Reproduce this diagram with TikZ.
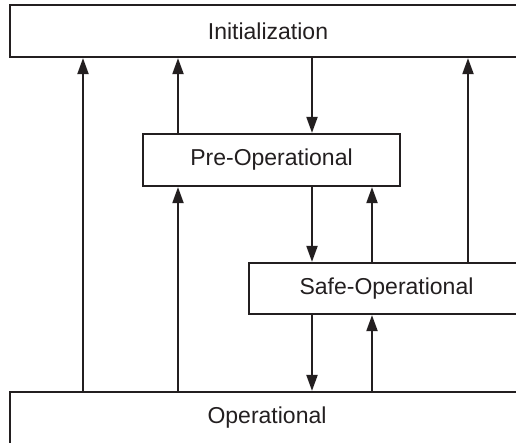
\documentclass[tikz,border=0pt]{standalone}
\usepackage{fontspec}
\setmainfont{Liberation Sans}
\usetikzlibrary{arrows.meta}
\definecolor{ink}{HTML}{231F20}
\tikzset{
  box/.style={draw=ink, line width=2.2pt, fill=white, inner sep=0pt, text=ink,
    font=\fontsize{23pt}{27pt}\selectfont},
  arr/.style={draw=ink, line width=2pt, -{Triangle[length=16pt,width=11pt]}}
}
\begin{document}
\begin{tikzpicture}[x=1pt,y=-1pt]
\useasboundingbox (0,0) rectangle (516,442);
\clip (0,0) rectangle (516,442);
\fill[white] (0,0) rectangle (516,442);
\node[box, minimum width=516pt, minimum height=52pt] (init) at (268,31) {Initialization};
\node[box, minimum width=257pt, minimum height=52pt] (pre) at (271.5,160) {Pre-Operational};
\node[box, minimum width=275pt, minimum height=51pt] (safe) at (386.5,288.5) {Safe-Operational};
\node[box, minimum width=514pt, minimum height=52pt] (op) at (267,418) {Operational};
\coordinate (xa) at (83,0);
\coordinate (xb) at (178,0);
\coordinate (xc) at (312,0);
\coordinate (xd) at (372,0);
\coordinate (xe) at (468,0);
\draw[arr] (op.north -| xa) -- (init.south -| xa);
\draw[arr] (pre.north -| xb) -- (init.south -| xb);
\draw[arr] (op.north -| xb) -- (pre.south -| xb);
\draw[arr] (init.south -| xc) -- (pre.north -| xc);
\draw[arr] (pre.south -| xc) -- (safe.north -| xc);
\draw[arr] (safe.south -| xc) -- (op.north -| xc);
\draw[arr] (safe.north -| xd) -- (pre.south -| xd);
\draw[arr] (op.north -| xd) -- (safe.south -| xd);
\draw[arr] (safe.north -| xe) -- (init.south -| xe);
\end{tikzpicture}
\end{document}
